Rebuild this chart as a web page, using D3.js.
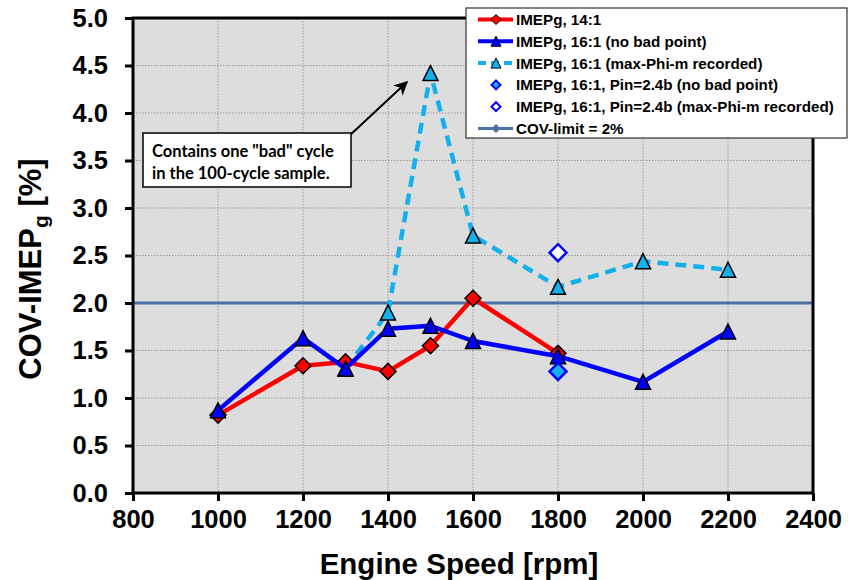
<!DOCTYPE html>
<html>
<head>
<meta charset="utf-8">
<script src="https://cdn.jsdelivr.net/npm/d3@7"></script>
<style>
  html, body { margin: 0; padding: 0; background: #fff; }
  svg { display: block; }
  text { font-family: "Liberation Sans", Arial, sans-serif; font-weight: bold; }
</style>
</head>
<body>
<svg id="chart" width="848" height="580"></svg>
<script>
// Engine speed sweep, COV of gross IMEP
const speeds14 = [1000, 1200, 1300, 1400, 1500, 1600, 1800];
const cov14 = [0.82, 1.34, 1.38, 1.28, 1.55, 2.05, 1.47];

const speeds16 = [1000, 1200, 1300, 1400, 1500, 1600, 1800, 2000, 2200];
const cov16 = [0.87, 1.63, 1.31, 1.73, 1.76, 1.60, 1.44, 1.17, 1.70];

const speeds16max = [1300, 1400, 1500, 1600, 1800, 2000, 2200];
const cov16max = [1.31, 1.90, 4.42, 2.71, 2.17, 2.44, 2.35];

const speedsPin = [1800];
const covPin = [1.28];
const covPinMax = [2.53];

const covLimit = 2.0;

const xTicks = [800, 1000, 1200, 1400, 1600, 1800, 2000, 2200, 2400];
const yTicks = [0, 0.5, 1.0, 1.5, 2.0, 2.5, 3.0, 3.5, 4.0, 4.5, 5.0];

const legendLabels = [
  "IMEPg, 14:1",
  "IMEPg, 16:1 (no bad point)",
  "IMEPg, 16:1 (max-Phi-m recorded)",
  "IMEPg, 16:1, Pin=2.4b (no bad point)",
  "IMEPg, 16:1, Pin=2.4b (max-Phi-m recorded)",
  "COV-limit = 2%"
];

const noteLines = ["Contains one \"bad\" cycle", "in the 100-cycle sample."];

const RED = "#ff0000", BLUE = "#0000ff", CYAN = "#14b0ec", LIMIT = "#4a71a7";

const svg = d3.select("#chart");
const L = 133, R = 813, T = 18, B = 493;
const x = d3.scaleLinear().domain([800, 2400]).range([L, R]);
const y = d3.scaleLinear().domain([0, 5]).range([B, T]);

// plot background
svg.append("rect").attr("x", L).attr("y", T).attr("width", R - L).attr("height", B - T)
  .attr("fill", "#dddddd");

// grid
const grid = svg.append("g");
grid.selectAll("line.h").data(yTicks.slice(1, -1)).enter().append("line")
  .attr("x1", L).attr("x2", R).attr("y1", d => y(d)).attr("y2", d => y(d))
  .attr("stroke", "#9a9a9a").attr("stroke-width", 1).attr("stroke-dasharray", "1.5,1.5");
grid.selectAll("line.v").data(xTicks.slice(1, -1)).enter().append("line")
  .attr("y1", T).attr("y2", B).attr("x1", d => x(d)).attr("x2", d => x(d))
  .attr("stroke", "#9a9a9a").attr("stroke-width", 1).attr("stroke-dasharray", "1.5,1.5");

// axes
const yAxis = svg.append("g").attr("transform", `translate(${L},0)`)
  .call(d3.axisLeft(y).tickValues(yTicks).tickFormat(d3.format(".1f")).tickSize(8).tickPadding(17));
const xAxis = svg.append("g").attr("transform", `translate(0,${B})`)
  .call(d3.axisBottom(x).tickValues(xTicks).tickFormat(d3.format("d")).tickSize(8).tickPadding(9));
[yAxis, xAxis].forEach(a => {
  a.select(".domain").remove();
  a.selectAll(".tick line").attr("stroke", "#000").attr("stroke-width", 3);
  a.selectAll(".tick text").attr("fill", "#000").style("font-size", "25.5px")
    .style("font-family", "'Liberation Sans', Arial, sans-serif").style("font-weight", "bold");
});

// COV limit
svg.append("line").attr("x1", L).attr("x2", R).attr("y1", y(covLimit)).attr("y2", y(covLimit))
  .attr("stroke", LIMIT).attr("stroke-width", 3);

// marker shapes
const tri = s => `M0,${-s}L${s},${s}L${-s},${s}Z`;
const dia = s => `M0,${-s}L${s},0L0,${s}L${-s},0Z`;

function series(xs, ys, color, dash, shape, size, fill, stroke) {
  const pts = xs.map((v, i) => [x(v), y(ys[i])]);
  const g = svg.append("g");
  g.append("path").attr("d", d3.line()(pts)).attr("fill", "none")
    .attr("stroke", color).attr("stroke-width", 4.5).attr("stroke-linejoin", "round")
    .attr("stroke-dasharray", dash || null);
  g.selectAll("path.m").data(pts).enter().append("path")
    .attr("d", shape(size)).attr("transform", d => `translate(${d[0]},${d[1]})`)
    .attr("fill", fill).attr("stroke", stroke).attr("stroke-width", 1.5);
}

series(speeds16max, cov16max, CYAN, "11,7", tri, 7.5, CYAN, "#000");
series(speeds14, cov14, RED, null, dia, 8, RED, "#000");
series(speeds16, cov16, BLUE, null, tri, 7.5, BLUE, "#000");

// Pin = 2.4 bar points
svg.selectAll("path.pin").data(speedsPin).enter().append("path")
  .attr("d", dia(8.5)).attr("transform", (d, i) => `translate(${x(d)},${y(covPin[i])})`)
  .attr("fill", CYAN).attr("stroke", BLUE).attr("stroke-width", 2.5);
svg.selectAll("path.pinmax").data(speedsPin).enter().append("path")
  .attr("d", dia(8.5)).attr("transform", (d, i) => `translate(${x(d)},${y(covPinMax[i])})`)
  .attr("fill", "#fff").attr("stroke", BLUE).attr("stroke-width", 2.5);

// frame
svg.append("rect").attr("x", L).attr("y", T).attr("width", R - L).attr("height", B - T)
  .attr("fill", "none").attr("stroke", "#000").attr("stroke-width", 3);

// axis titles
svg.append("text").attr("x", 459).attr("y", 574).attr("text-anchor", "middle")
  .style("font-size", "29.5px").text("Engine Speed [rpm]");
const yt = svg.append("text").attr("transform", "translate(41,269) rotate(-90)")
  .attr("text-anchor", "middle").style("font-size", "31px");
yt.append("tspan").text("COV-IMEP");
yt.append("tspan").attr("dy", 7).style("font-size", "21px").text("g");
yt.append("tspan").attr("dy", -7).text(" [%]");

// annotation
svg.append("defs").append("marker").attr("id", "arrow").attr("viewBox", "0 0 10 10")
  .attr("refX", 9).attr("refY", 5).attr("markerWidth", 7).attr("markerHeight", 7)
  .attr("orient", "auto").append("path").attr("d", "M0,0L10,5L0,10L3,5Z").attr("fill", "#000");
svg.append("line").attr("x1", 348).attr("y1", 137).attr("x2", 407).attr("y2", 82)
  .attr("stroke", "#000").attr("stroke-width", 2).attr("marker-end", "url(#arrow)");
svg.append("rect").attr("x", 143).attr("y", 133).attr("width", 208).attr("height", 54)
  .attr("fill", "#fff").attr("stroke", "#000").attr("stroke-width", 1.5);
svg.selectAll("text.note").data(noteLines).enter().append("text")
  .attr("x", 152).attr("y", (d, i) => 157 + i * 22)
  .style("font-family", "Lato, 'Open Sans', sans-serif").style("font-size", "16.5px")
  .text(d => d);

// legend
const lg = svg.append("g");
lg.append("rect").attr("x", 466).attr("y", 8).attr("width", 381).attr("height", 130)
  .attr("fill", "#fff").attr("stroke", "#333").attr("stroke-width", 1.2);
const rowY = i => 19.5 + i * 21.8;
const lx1 = 478, lx2 = 513, lmx = 496;
const legendStyle = [
  { color: RED, dash: null, shape: dia, s: 5, fill: RED, stroke: "#000", sw: 1 },
  { color: BLUE, dash: null, shape: tri, s: 5, fill: BLUE, stroke: "#000", sw: 1 },
  { color: CYAN, dash: "8,5", shape: tri, s: 5, fill: CYAN, stroke: "#000", sw: 1 },
  { color: null, shape: dia, s: 4.5, fill: CYAN, stroke: BLUE, sw: 2 },
  { color: null, shape: dia, s: 4.5, fill: "#fff", stroke: BLUE, sw: 2 },
  { color: LIMIT, dash: null, shape: dia, s: 4, fill: LIMIT, stroke: LIMIT, sw: 1 }
];
legendLabels.forEach((lab, i) => {
  const st = legendStyle[i], cy = rowY(i);
  if (st.color) {
    lg.append("line").attr("x1", lx1).attr("x2", lx2).attr("y1", cy).attr("y2", cy)
      .attr("stroke", st.color).attr("stroke-width", i === 5 ? 3 : 4)
      .attr("stroke-dasharray", st.dash);
  }
  lg.append("path").attr("d", st.shape(st.s)).attr("transform", `translate(${lmx},${cy})`)
    .attr("fill", st.fill).attr("stroke", st.stroke).attr("stroke-width", st.sw);
  lg.append("text").attr("x", 516).attr("y", cy + 5.5).style("font-size", "15.2px").text(lab);
});
</script>
</body>
</html>
